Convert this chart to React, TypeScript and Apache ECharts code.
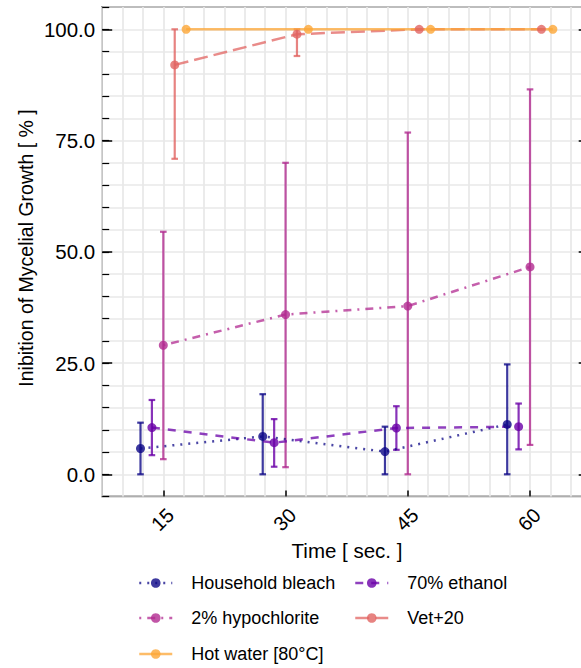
import React, { useEffect, useRef } from "react";
import * as echarts from "echarts";

const TIME = [15, 30, 45, 60];
const NAMES = ["Household bleach", "70% ethanol", "2% hypochlorite", "Vet+20", "Hot water [80°C]"];
const COLORS = ["#0D0887", "#6A00A8", "#B12A90", "#E16462", "#FCA636"];
const DODGE = [-2.8, -1.4, 0, 1.4, 2.8];

const BLEACH_MEAN = [5.8, 8.5, 5.1, 11.2];
const BLEACH_LOW = [0, 0, 0, 0];
const BLEACH_HIGH = [11.6, 18.0, 10.7, 24.7];

const ETHANOL_MEAN = [10.5, 7.1, 10.4, 10.7];
const ETHANOL_LOW = [4.3, 1.7, 5.5, 5.6];
const ETHANOL_HIGH = [16.7, 12.4, 15.3, 15.9];

const HYPO_MEAN = [29.0, 35.9, 37.8, 46.6];
const HYPO_LOW = [3.4, 1.6, 0, 6.6];
const HYPO_HIGH = [54.5, 70.0, 76.8, 86.5];

const VET_MEAN = [92.0, 98.9, 100, 100];
const VET_LOW = [70.9, 94.0, 100, 100];
const VET_HIGH = [100, 100, 100, 100];

const HOT_MEAN = [100, 100, 100, 100];
const HOT_LOW = [100, 100, 100, 100];
const HOT_HIGH = [100, 100, 100, 100];

const Y_MAJOR = [0, 25, 50, 75, 100];
const X_MAJOR = [15, 30, 45, 60];

const MEANS = [BLEACH_MEAN, ETHANOL_MEAN, HYPO_MEAN, VET_MEAN, HOT_MEAN];
const LOWS = [BLEACH_LOW, ETHANOL_LOW, HYPO_LOW, VET_LOW, HOT_LOW];
const HIGHS = [BLEACH_HIGH, ETHANOL_HIGH, HYPO_HIGH, VET_HIGH, HOT_HIGH];
const DASHES: any[] = [[2, 6], [8, 8], [2, 6, 8, 6], [14, 6], "solid"];
const HAS_ERR = [true, true, true, true, false];

const FONT = "Liberation Sans, Arial, sans-serif";

export default function App() {
  const ref = useRef<HTMLDivElement>(null);
  useEffect(() => {
    const chart = echarts.init(ref.current!, null, { renderer: "svg" });
    const series: any[] = [];
    NAMES.forEach((name, i) => {
      if (HAS_ERR[i]) {
        series.push({
          type: "custom",
          name: "err-" + i,
          xAxisIndex: 0,
          yAxisIndex: 0,
          z: 2,
          encode: { x: 0, y: [1, 2] },
          data: TIME.map((t, j) => [t + DODGE[i], LOWS[i][j], HIGHS[i][j]]),
          renderItem: (params: any, api: any) => {
            const x = api.value(0);
            const lo = api.coord([x, api.value(1)]);
            const hi = api.coord([x, api.value(2)]);
            const w = 3.3;
            const style = { stroke: COLORS[i], lineWidth: 2.2, opacity: 0.8 };
            return {
              type: "group",
              children: [
                { type: "line", shape: { x1: lo[0], y1: lo[1], x2: hi[0], y2: hi[1] }, style },
                { type: "line", shape: { x1: lo[0] - w, y1: lo[1], x2: lo[0] + w, y2: lo[1] }, style },
                { type: "line", shape: { x1: hi[0] - w, y1: hi[1], x2: hi[0] + w, y2: hi[1] }, style },
              ],
            };
          },
        });
      }
    });
    NAMES.forEach((name, i) => {
      series.push({
        type: "line",
        name,
        xAxisIndex: 0,
        yAxisIndex: 0,
        z: 3,
        data: TIME.map((t, j) => [t + DODGE[i], MEANS[i][j]]),
        symbol: "circle",
        symbolSize: 9,
        showSymbol: true,
        itemStyle: { color: COLORS[i], opacity: 0.8 },
        lineStyle: { color: COLORS[i], width: 2.5, type: DASHES[i], opacity: 0.75 },
      });
    });

    const legendPos = [
      { left: 138, top: 574 },
      { left: 354, top: 574 },
      { left: 138, top: 609 },
      { left: 354, top: 609 },
      { left: 138, top: 645 },
    ];
    const legends = NAMES.map((name, i) => ({
      data: [name],
      left: legendPos[i].left,
      top: legendPos[i].top,
      padding: 0,
      itemWidth: 33,
      itemHeight: 12,
      selectedMode: false,
      lineStyle: { width: 2.5 },
      textStyle: { fontSize: 18, color: "#000", fontFamily: FONT, padding: [0, 0, 0, 14] },
    }));

    const gridLeft = 102.2;
    const xMin = 7.5;
    const xMax = 67.2;
    const yMin = -5;
    const yMax = 105;

    chart.setOption({
      animation: false,
      backgroundColor: "#fff",
      textStyle: { fontFamily: FONT },
      grid: {
        left: gridLeft,
        top: 7.05,
        width: 486.5,
        height: 489.5,
        show: true,
        borderColor: "#000",
        borderWidth: 1.5,
        backgroundColor: "transparent",
        containLabel: false,
        outerBoundsMode: "none",
        z: 0,
      },
      xAxis: [
        {
          type: "value",
          min: xMin,
          max: xMax,
          interval: 2.5,
          position: "bottom",
          axisLine: { show: false, onZero: false },
          axisTick: { show: false },
          axisLabel: {
            show: true,
            rotate: 45,
            margin: 8,
            fontSize: 20,
            color: "#000",
            fontFamily: FONT,
            verticalAlign: "top",
            formatter: (v: number) => (X_MAJOR.indexOf(v) >= 0 ? String(v) : ""),
          },
          splitLine: { show: true, lineStyle: { color: "#e8e8e8", width: 1.7 } },
        },
        {
          type: "value",
          min: xMin,
          max: xMax,
          position: "bottom",
          axisLine: { show: false, onZero: false },
          axisTick: { show: true, inside: true, length: 6, customValues: X_MAJOR, lineStyle: { color: "#000", width: 1.5 } },
          axisLabel: { show: false },
          splitLine: { show: false },
        },
      ],
      yAxis: [
        {
          type: "value",
          min: yMin,
          max: yMax,
          interval: 5,
          position: "left",
          axisLine: { show: false, onZero: false },
          axisTick: { show: true, inside: true, length: 7, lineStyle: { color: "#000", width: 1.2 } },
          axisLabel: {
            margin: 7,
            fontSize: 20.5,
            color: "#000",
            fontFamily: FONT,
            formatter: (v: number) => (Y_MAJOR.indexOf(v) >= 0 ? v.toFixed(1) : ""),
          },
          splitLine: { show: true, lineStyle: { color: "#e8e8e8", width: 1.7 } },
        },
        {
          type: "value",
          min: yMin,
          max: yMax,
          position: "left",
          axisLine: { show: false, onZero: false },
          axisTick: { show: true, inside: true, length: 10, customValues: Y_MAJOR, lineStyle: { color: "#000", width: 1.5 } },
          axisLabel: { show: false },
          splitLine: { show: false },
        },
        {
          type: "value",
          min: yMin,
          max: yMax,
          position: "right",
          axisLine: { show: false, onZero: false },
          axisTick: { show: true, inside: true, length: 10, customValues: Y_MAJOR, lineStyle: { color: "#000", width: 1.5 } },
          axisLabel: { show: false },
          splitLine: { show: false },
        },
      ],
      legend: legends,
      graphic: [
        {
          type: "text",
          x: 26,
          y: 248,
          rotation: Math.PI / 2,
          style: {
            text: "Inibition of Mycelial Growth [ % ]",
            fontSize: 19.5,
            fontFamily: FONT,
            fill: "#000",
            align: "center",
            verticalAlign: "middle",
          },
        },
        {
          type: "text",
          x: 347,
          y: 550,
          style: {
            text: "Time [ sec. ]",
            fontSize: 20.5,
            fontFamily: FONT,
            fill: "#000",
            align: "center",
            verticalAlign: "middle",
          },
        },
      ],
      series,
    });
    return () => chart.dispose();
  }, []);
  return <div ref={ref} style={{ position: "absolute", left: 0, top: 0, width: 581, height: 668 }} />;
}
